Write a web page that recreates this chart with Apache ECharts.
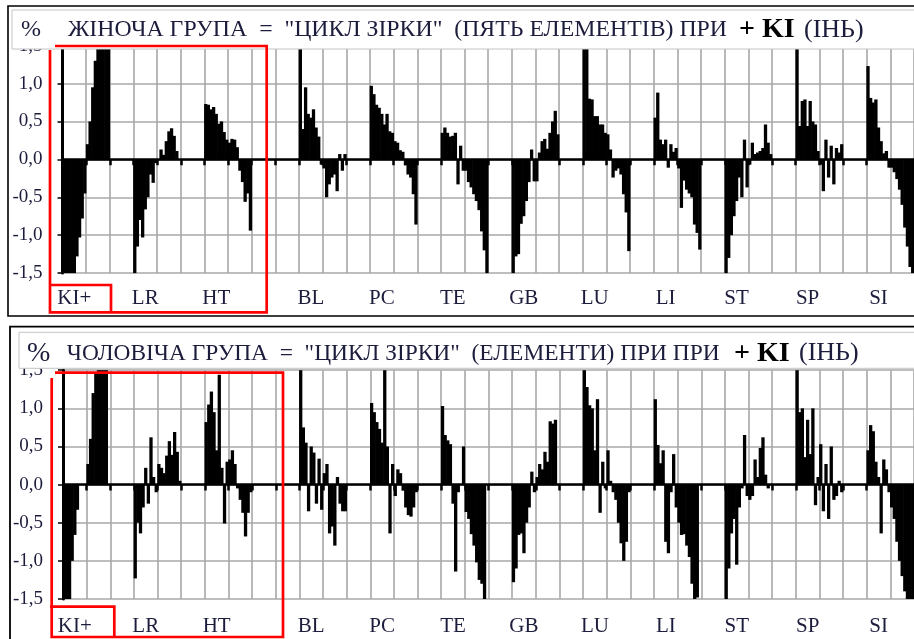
<!DOCTYPE html>
<html><head><meta charset="utf-8">
<script src="https://cdn.jsdelivr.net/npm/echarts@6/dist/echarts.min.js"></script>
<style>html,body{margin:0;padding:0;background:#fff}#c{width:914px;height:639px}</style>
</head><body><div id="c"></div>
<script>
// tick labels of the category cells (9 bars per cell)
const cellLabels = ['KI+','','','LR','','','HT','','','','BL','','','PC','','','TE','','','GB','','','LU','','','LI','','','ST','','','SP','','','SI',''];

// female group (top panel), 36 cells x 9 bars
const femaleValues = [
  -1.6,-1.6,-1.6,-1.6,-1.6,-1.28,-1.03,-0.78,-0.45,
  0.2,0.5,0.95,1.3,1.6,1.6,1.6,1.6,1.6,
  0,0,0,0,0,0,0,0,0,
  -1.5,-1.15,-0.8,-1.03,-0.66,-0.5,-0.2,-0.31,-0.05,
  0,0.13,0.06,0.24,0.37,0.41,0.31,0.11,0,
  0,0,0,0,0,0,0,0,0,
  0.73,0.72,0.66,0.69,0.6,0.47,0.5,0.36,0.26,
  0.22,0.27,0.26,0.16,-0.15,-0.3,-0.56,-0.45,-0.94,
  0,0,0,0,0,0,0,0,0,
  0,0,0,0,0,0,0,0,0,
  1.6,0.4,0.95,0.6,0.55,0.66,0.42,0.3,-0.07,
  -0.12,-0.5,-0.33,-0.24,-0.2,-0.42,0.07,-0.15,0.07,
  0,0,0,0,0,0,0,0,0,
  0.97,0.86,0.72,0.68,0.6,0.46,0.6,0.37,0.35,
  0.24,0.22,0.12,0.1,-0.08,-0.2,-0.24,-0.46,-0.86,
  0,0,0,0,0,0,0,0,0,
  0.35,0.42,0.35,0.3,0.31,0.35,-0.33,0.18,-0.15,
  -0.15,-0.3,-0.37,-0.46,-0.55,-0.67,-0.95,-1.2,-1.52,
  0,0,0,0,0,0,0,0,0,
  -1.5,-1.28,-1.25,-0.85,-0.75,-0.55,-0.3,0.13,-0.29,
  -0.29,0.09,0.24,0.27,0.14,0.35,0.5,0.64,0.33,
  0,0,0,0,0,0,0,0,0,
  1.6,1.6,0.8,0.79,0.57,0.57,0.46,0.46,0.35,
  0.33,0.13,-0.24,-0.15,-0.12,-0.2,-0.46,-0.7,-1.21,
  0,0,0,0,0,0,0,0,0,
  0.55,0.88,0.26,0.2,0.26,-0.11,0.2,0.1,0.15,
  -0.12,-0.64,-0.28,-0.4,-0.45,-0.5,-0.86,-0.97,-1.19,
  0,0,0,0,0,0,0,0,0,
  -1.5,-1.3,-1.0,-0.75,-0.55,-0.24,-0.5,0.26,-0.37,
  -0.07,0.22,0.07,0.09,0.11,0.15,0.46,0.22,0.07,
  0,0,0,0,0,0,0,0,0,
  1.6,0.44,0.77,0.79,0.44,0.77,0.5,0.46,0.11,
  -0.07,-0.42,0.26,-0.24,0.18,-0.33,0.15,0.09,0.2,
  0,0,0,0,0,0,0,0,0,
  1.23,0.81,0.75,0.79,0.42,0.24,0.08,0.11,-0.11,
  -0.11,-0.17,-0.26,-0.4,-0.6,-0.9,-1.15,-1.42,-1.55
];

// male group (bottom panel), 36 cells x 9 bars
const maleValues = [
  -1.55,-1.55,-1.52,-1.0,-0.66,-0.33,0,0,0,
  0.27,0.6,1.2,1.45,1.6,1.6,1.6,1.6,0,
  0,0,0,0,0,0,0,0,0,
  -1.23,-0.5,-0.64,-0.3,0.22,-0.25,0.62,0.1,-0.1,
  0.27,0.22,0.15,0.38,0.57,0.39,0.69,0.43,0.05,
  0,0,0,0,0,0,0,0,0,
  0.82,1.05,1.22,0.95,0.45,1.44,0.22,-0.51,0.3,
  0.33,0.45,0.27,-0.05,-0.2,-0.37,-0.68,-0.37,-0.1,
  0,0,0,0,0,0,0,0,0,
  0,0,0,0,0,0,0,0,0,
  1.6,0.75,0.55,-0.35,0.5,0.42,-0.25,0.34,-0.33,
  0.15,0.27,-0.64,-0.55,-0.8,0.1,-0.25,-0.35,-0.35,
  0,0,0,0,0,0,0,0,0,
  1.07,0.95,0.82,0.73,0.55,1.6,0.5,-0.64,0.27,
  -0.15,0.2,0.15,-0.08,-0.3,-0.4,-0.42,-0.3,-0.1,
  0,0,0,0,0,0,0,0,0,
  1.03,0.65,0.58,0.53,-0.25,-1.14,-0.1,0,0.5,
  -0.36,-0.45,-0.65,-0.8,-1.02,-1.25,-1.3,-1.52,0,
  0,0,0,0,0,0,0,0,0,
  -1.28,-1.1,-0.66,-0.64,-0.9,-0.5,-0.3,0.17,-0.1,
  0.1,0.27,0.2,0.43,0.3,0.83,0.8,0.85,0,
  0,0,0,0,0,0,0,0,0,
  1.6,1.28,1.04,1.0,0.45,1.12,-0.37,0.3,-0.05,
  0.45,0.05,-0.1,-0.2,-0.5,-0.77,-1.0,-0.75,-0.1,
  0,0,0,0,0,0,0,0,0,
  1.12,0.52,0.28,0.45,-0.75,-0.9,-0.1,0.4,-0.3,
  -0.5,-0.66,-0.65,-0.8,-0.95,-1.3,-1.5,-1.48,0,
  0,0,0,0,0,0,0,0,0,
  -1.5,-1.1,-0.64,-0.45,-1.05,-0.3,-0.05,0.65,-0.15,
  -0.2,-0.15,0.33,0.1,0.48,0.62,0.13,-0.05,0,
  0,0,0,0,0,0,0,0,0,
  1.6,0.95,1.0,0.36,0.85,0.4,1.0,-0.27,0.1,
  0.53,-0.35,0.27,-0.45,0.5,-0.2,-0.15,0.05,-0.1,
  0,0,0,0,0,0,0,0,0,
  0.45,0.78,0.7,0.3,0.1,-0.64,0.33,0.2,-0.1,
  -0.3,-0.45,-0.75,-1.0,-1.2,-1.4,-1.52,-1.55,-1.55
];

const topTitle = ['%', 'ЖІНОЧА ГРУПА  =  "ЦИКЛ ЗІРКИ"  (ПЯТЬ ЕЛЕМЕНТІВ) ПРИ', '+ KI', '(ІНЬ)'];
const bottomTitle = ['%', 'ЧОЛОВІЧА ГРУПА  =  "ЦИКЛ ЗІРКИ"  (ЕЛЕМЕНТИ) ПРИ ПРИ', '+ KI', '(ІНЬ)'];

const BARS_PER_CELL = 9;
const FONT = '"Liberation Serif", "Times New Roman", serif';
const TXT = '#1c1c3c';
const GRID_C = '#a8a8a8';

const chart = echarts.init(document.getElementById('c'), null, {renderer: 'canvas'});

function xAxes(gi, values) {
  return [
    {
      type: 'category', gridIndex: gi, data: values.map((v, i) => i), boundaryGap: true, position: 'bottom',
      axisLine: {show: true, onZero: true, lineStyle: {color: '#000', width: 2.5}},
      axisTick: {show: true, interval: (i) => i % BARS_PER_CELL === 0, length: 6, lineStyle: {color: '#000', width: 2.5}},
      axisLabel: {show: false}, splitLine: {show: false}, z: 3
    },
    {
      type: 'category', gridIndex: gi, data: cellLabels, boundaryGap: true, position: 'bottom',
      axisLine: {show: false, onZero: false}, axisTick: {show: false},
      axisLabel: {show: true, interval: 0, margin: gi === 0 ? 15 : 17, fontFamily: FONT, fontSize: 21, color: TXT},
      splitLine: {show: true, interval: 0, lineStyle: {color: GRID_C, width: 1.6}}
    }
  ];
}
function yAxis(gi) {
  return {
    type: 'value', gridIndex: gi, min: -1.5, max: 1.5, interval: 0.5,
    axisLine: {show: true, onZero: false, lineStyle: {color: '#000', width: 3}},
    axisTick: {show: true, length: 5, lineStyle: {color: '#000', width: 1.5}},
    axisLabel: {formatter: (v) => v.toFixed(1).replace('.', ','), margin: 20, fontFamily: FONT, fontSize: 19, color: TXT},
    splitLine: {show: true, lineStyle: {color: GRID_C, width: 1.6}}
  };
}
function titleTexts(parts, xs, y, sizes) {
  return parts.map((t, k) => ({
    type: 'text', x: xs[k], y: y, z: 60,
    style: {text: t, font: (k === 2 ? 'bold ' : '') + sizes[k] + 'px ' + FONT, fill: k === 2 ? '#000' : TXT, align: 'left', verticalAlign: 'middle'}
  }));
}
const red = {stroke: '#ff0000', lineWidth: 2.7, fill: null};
const barStyle = {color: '#000'};

const option = {
  animation: false,
  backgroundColor: '#fff',
  grid: [
    {left: 62.5, top: 45.6, width: 854.6, height: 227.5},
    {left: 63, top: 370.2, width: 856.4, height: 228.8}
  ],
  xAxis: [...xAxes(0, femaleValues), ...xAxes(1, maleValues)],
  yAxis: [yAxis(0), yAxis(1)],
  series: [
    {type: 'bar', xAxisIndex: 0, yAxisIndex: 0, data: femaleValues, barWidth: 3.3, clip: true, silent: true, itemStyle: barStyle},
    {type: 'bar', xAxisIndex: 2, yAxisIndex: 1, data: maleValues, barWidth: 3.3, clip: true, silent: true, itemStyle: barStyle}
  ],
  graphic: {elements: [
    {type: 'rect', z: 40, shape: {x: 8, y: 6, width: 930, height: 310}, style: {stroke: '#000', lineWidth: 1.6, fill: null}},
    {type: 'rect', z: 40, shape: {x: 10, y: 326.7, width: 930, height: 340}, style: {stroke: '#000', lineWidth: 1.8, fill: null}},
    {type: 'rect', z: 50, shape: {x: 12, y: 10, width: 930, height: 39}, style: {stroke: '#c4c4c4', lineWidth: 1, fill: '#fff'}},
    {type: 'rect', z: 50, shape: {x: 19, y: 332.3, width: 930, height: 36}, style: {stroke: '#c4c4c4', lineWidth: 1, fill: '#fff'}},
    ...titleTexts(topTitle, [21, 68, 739, 804], 30, [24, 23.8, 28, 26]),
    ...titleTexts(bottomTitle, [27, 66.7, 734, 799], 353.5, [28, 23.4, 28, 26]),
    {type: 'polyline', z: 70, shape: {points: [[55, 46], [266.7, 46], [266.7, 312.3], [50, 312.3], [50, 50]]}, style: red},
    {type: 'polyline', z: 70, shape: {points: [[50, 285], [111, 285], [111, 312.3]]}, style: red},
    {type: 'polyline', z: 70, shape: {points: [[55, 372.7], [283, 372.7], [283, 637], [51.7, 637], [51.7, 378]]}, style: red},
    {type: 'polyline', z: 70, shape: {points: [[50, 606.7], [114.3, 606.7], [114.3, 637]]}, style: red}
  ]}
};
chart.setOption(option);
</script></body></html>
